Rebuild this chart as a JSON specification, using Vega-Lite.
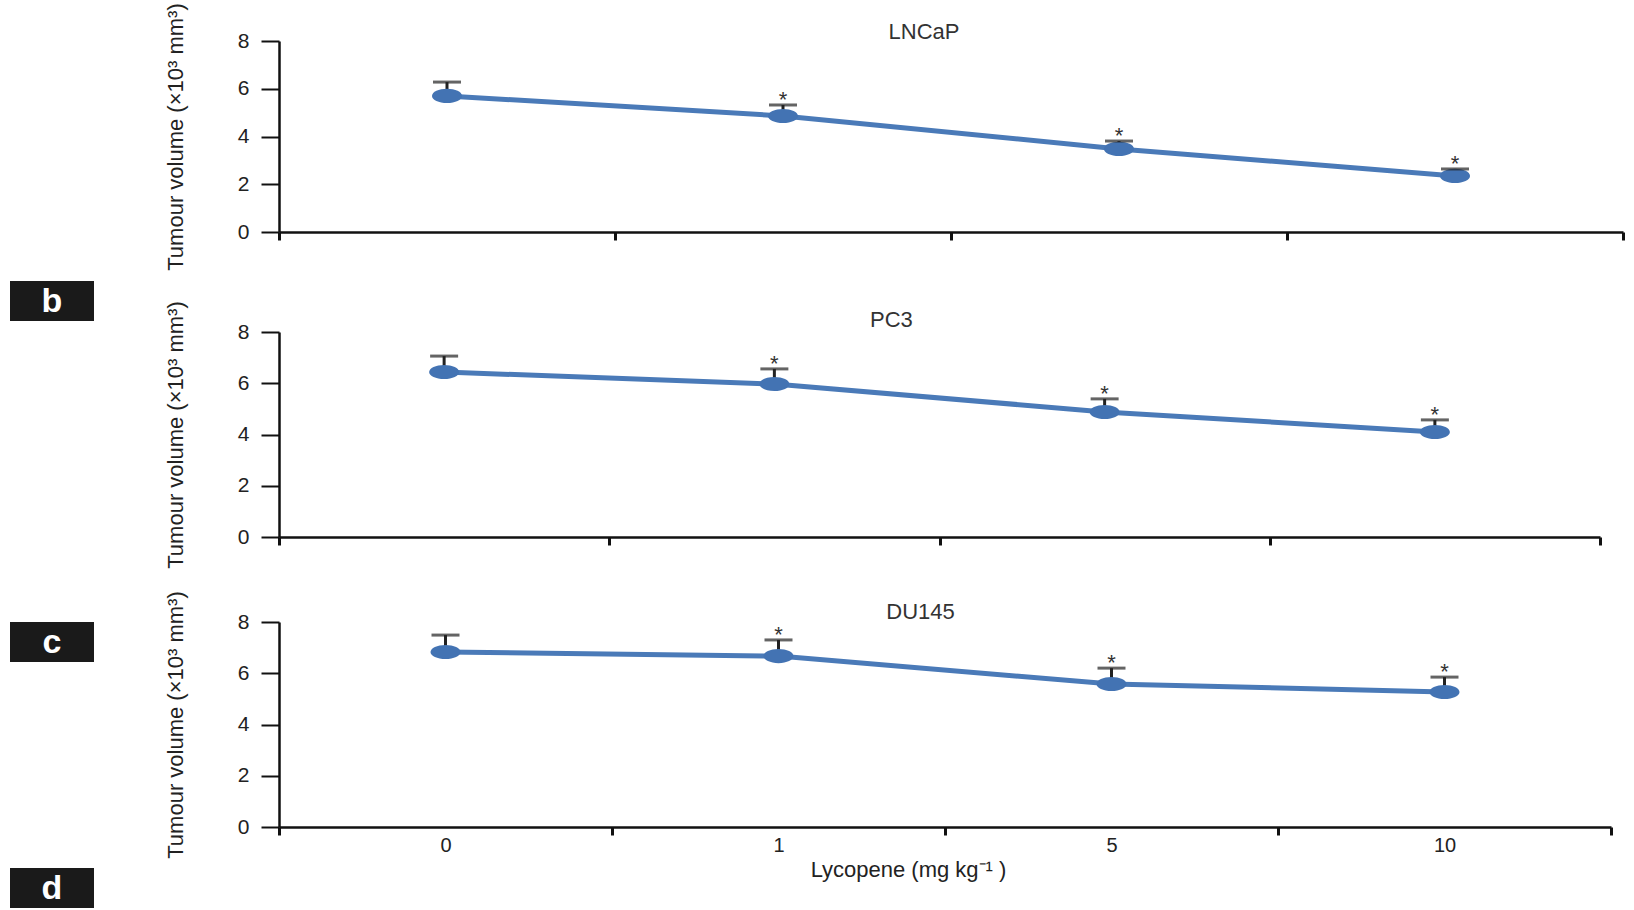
{
  "$schema": "https://vega.github.io/schema/vega-lite/v6.json",
  "background": "white",
  "padding": {"left": 10, "top": 2, "right": 0, "bottom": 0},
  "datasets": {
    "vol": [
      {"cell": "LNCaP", "dose": "0", "mean": 5.70, "upper": 6.28, "star": ""},
      {"cell": "LNCaP", "dose": "1", "mean": 4.86, "upper": 5.32, "star": "*"},
      {"cell": "LNCaP", "dose": "5", "mean": 3.48, "upper": 3.81, "star": "*"},
      {"cell": "LNCaP", "dose": "10", "mean": 2.35, "upper": 2.64, "star": "*"},
      {"cell": "PC3", "dose": "0", "mean": 6.44, "upper": 7.06, "star": ""},
      {"cell": "PC3", "dose": "1", "mean": 5.97, "upper": 6.56, "star": "*"},
      {"cell": "PC3", "dose": "5", "mean": 4.88, "upper": 5.39, "star": "*"},
      {"cell": "PC3", "dose": "10", "mean": 4.10, "upper": 4.57, "star": "*"},
      {"cell": "DU145", "dose": "0", "mean": 6.83, "upper": 7.49, "star": ""},
      {"cell": "DU145", "dose": "1", "mean": 6.67, "upper": 7.30, "star": "*"},
      {"cell": "DU145", "dose": "5", "mean": 5.58, "upper": 6.20, "star": "*"},
      {"cell": "DU145", "dose": "10", "mean": 5.27, "upper": 5.85, "star": "*"}
    ]
  },
  "config": {
    "view": {"stroke": null},
    "font": "Liberation Sans",
    "axis": {
      "grid": false,
      "domainColor": "#111",
      "tickColor": "#111",
      "labelColor": "#222",
      "titleColor": "#222",
      "labelFont": "Liberation Sans",
      "titleFont": "Liberation Sans",
      "titleFontWeight": "normal"
    },
    "axisY": {
      "labelFontSize": 21,
      "labelPadding": 12,
      "tickSize": 18,
      "tickWidth": 2,
      "domainWidth": 2.5,
      "titleFontSize": 22,
      "titlePadding": 50
    },
    "axisX": {
      "tickBand": "extent",
      "tickSize": 8,
      "tickWidth": 3,
      "domainWidth": 2.5,
      "labelFontSize": 20,
      "labelPadding": 0,
      "titleFontSize": 22,
      "titlePadding": 4,
      "labelAngle": 0
    }
  },
  "vconcat": [
    {
      "width": 1344,
      "height": 191,
      "layer": [
        {
          "data": {"name": "vol"},
          "transform": [{"filter": "datum.cell === 'LNCaP'"}],
          "layer": [
            {"mark": {"type": "rule", "color": "#222", "strokeWidth": 3},
             "encoding": {"y": {"field": "mean", "type": "quantitative"}, "y2": {"field": "upper"}}},
            {"mark": {"type": "line", "color": "#4a7ab8", "strokeWidth": 5}, "encoding": {}},
            {"mark": {"type": "point", "filled": true, "opacity": 1, "color": "#4373b3", "shape": "M-1,0A1,0.47,0,1,0,1,0A1,0.47,0,1,0,-1,0Z", "size": 900},
             "encoding": {}},
            {"mark": {"type": "tick", "color": "#222", "size": 28, "thickness": 3, "orient": "horizontal"},
             "encoding": {"y": {"field": "upper", "type": "quantitative"}}},
            {"mark": {"type": "text", "fontSize": 22, "color": "#333", "baseline": "alphabetic", "dy": 2},
             "encoding": {"y": {"field": "upper", "type": "quantitative"}, "text": {"field": "star"}}}
          ],
          "encoding": {
            "x": {"field": "dose", "type": "nominal", "bandPosition": 0.5, "sort": ["0", "1", "5", "10"],
                  "scale": {"type": "band", "domain": ["0", "1", "5", "10"], "paddingInner": 0, "paddingOuter": 0},
                  "axis": {"labels": false, "title": null}},
            "y": {"field": "mean", "type": "quantitative",
                  "scale": {"domain": [0, 8], "nice": false},
                  "axis": {"values": [0, 2, 4, 6, 8], "title": "Tumour volume (×10³ mm³)"}}
          }
        },
        {
          "data": {"values": [{"panel": "LNCaP"}]},
          "mark": {"type": "text", "fontSize": 22, "color": "#333", "baseline": "alphabetic", "align": "center", "dx": 141, "dy": -2, "clip": false},
          "encoding": {"x": {"datum": "1", "bandPosition": 0.5}, "y": {"datum": 8}, "text": {"field": "panel"}}
        },
        {
          "data": {"values": [{"letter": "b"}]},
          "layer": [
            {"mark": {"type": "point", "filled": true, "opacity": 1, "color": "#1a1a1a", "shape": "M-1,-0.476L1,-0.476L1,0.476L-1,0.476Z", "size": 7056, "clip": false},
             "encoding": {"x": {"value": -227}, "y": {"datum": -2.89}}},
            {"mark": {"type": "text", "color": "white", "fontSize": 34, "fontWeight": "bold", "baseline": "middle", "align": "center", "dy": 1, "clip": false},
             "encoding": {"x": {"value": -227}, "y": {"datum": -2.89}, "text": {"field": "letter"}}}
          ]
        }
      ]
    },
    {
      "width": 1321,
      "height": 220,
      "layer": [
        {
          "data": {"name": "vol"},
          "transform": [{"filter": "datum.cell === 'PC3'"}],
          "layer": [
            {"mark": {"type": "rule", "color": "#222", "strokeWidth": 3},
             "encoding": {"y": {"field": "mean", "type": "quantitative"}, "y2": {"field": "upper"}}},
            {"mark": {"type": "line", "color": "#4a7ab8", "strokeWidth": 5}, "encoding": {}},
            {"mark": {"type": "point", "filled": true, "opacity": 1, "color": "#4373b3", "shape": "M-1,0A1,0.47,0,1,0,1,0A1,0.47,0,1,0,-1,0Z", "size": 900},
             "encoding": {}},
            {"mark": {"type": "tick", "color": "#222", "size": 28, "thickness": 3, "orient": "horizontal"},
             "encoding": {"y": {"field": "upper", "type": "quantitative"}}},
            {"mark": {"type": "text", "fontSize": 22, "color": "#333", "baseline": "alphabetic", "dy": 2},
             "encoding": {"y": {"field": "upper", "type": "quantitative"}, "text": {"field": "star"}}}
          ],
          "encoding": {
            "x": {"field": "dose", "type": "nominal", "bandPosition": 0.5, "sort": ["0", "1", "5", "10"],
                  "scale": {"type": "band", "domain": ["0", "1", "5", "10"], "paddingInner": 0, "paddingOuter": 0},
                  "axis": {"labels": false, "title": null}},
            "y": {"field": "mean", "type": "quantitative",
                  "scale": {"domain": [0, 8], "nice": false, "range": [220, 15]},
                  "axis": {"values": [0, 2, 4, 6, 8], "title": "Tumour volume (×10³ mm³)"}}
          }
        },
        {
          "data": {"values": [{"panel": "PC3"}]},
          "mark": {"type": "text", "fontSize": 22, "color": "#333", "baseline": "alphabetic", "align": "center", "dx": 117, "dy": -5, "clip": false},
          "encoding": {"x": {"datum": "1", "bandPosition": 0.5}, "y": {"datum": 8}, "text": {"field": "panel"}}
        }
      ]
    },
    {
      "width": 1332,
      "height": 205,
      "layer": [
        {
          "data": {"name": "vol"},
          "transform": [{"filter": "datum.cell === 'DU145'"}],
          "layer": [
            {"mark": {"type": "rule", "color": "#222", "strokeWidth": 3},
             "encoding": {"y": {"field": "mean", "type": "quantitative"}, "y2": {"field": "upper"}}},
            {"mark": {"type": "line", "color": "#4a7ab8", "strokeWidth": 5}, "encoding": {}},
            {"mark": {"type": "point", "filled": true, "opacity": 1, "color": "#4373b3", "shape": "M-1,0A1,0.47,0,1,0,1,0A1,0.47,0,1,0,-1,0Z", "size": 900},
             "encoding": {}},
            {"mark": {"type": "tick", "color": "#222", "size": 28, "thickness": 3, "orient": "horizontal"},
             "encoding": {"y": {"field": "upper", "type": "quantitative"}}},
            {"mark": {"type": "text", "fontSize": 22, "color": "#333", "baseline": "alphabetic", "dy": 2},
             "encoding": {"y": {"field": "upper", "type": "quantitative"}, "text": {"field": "star"}}}
          ],
          "encoding": {
            "x": {"field": "dose", "type": "nominal", "bandPosition": 0.5, "sort": ["0", "1", "5", "10"],
                  "scale": {"type": "band", "domain": ["0", "1", "5", "10"], "paddingInner": 0, "paddingOuter": 0},
                  "axis": {"title": "Lycopene (mg kg⁻¹ )", "titleX": 629}},
            "y": {"field": "mean", "type": "quantitative",
                  "scale": {"domain": [0, 8], "nice": false},
                  "axis": {"values": [0, 2, 4, 6, 8], "title": "Tumour volume (×10³ mm³)"}}
          }
        },
        {
          "data": {"values": [{"panel": "DU145"}]},
          "mark": {"type": "text", "fontSize": 22, "color": "#333", "baseline": "alphabetic", "align": "center", "dx": 142, "dy": -3, "clip": false},
          "encoding": {"x": {"datum": "1", "bandPosition": 0.5}, "y": {"datum": 8}, "text": {"field": "panel"}}
        },
        {
          "data": {"values": [{"letter": "c", "pos": 7.22}, {"letter": "d", "pos": -2.38}]},
          "layer": [
            {"mark": {"type": "point", "filled": true, "opacity": 1, "color": "#1a1a1a", "shape": "M-1,-0.476L1,-0.476L1,0.476L-1,0.476Z", "size": 7056, "clip": false},
             "encoding": {"x": {"value": -227}, "y": {"field": "pos", "type": "quantitative"}}},
            {"mark": {"type": "text", "color": "white", "fontSize": 34, "fontWeight": "bold", "baseline": "middle", "align": "center", "dy": 1, "clip": false},
             "encoding": {"x": {"value": -227}, "y": {"field": "pos", "type": "quantitative"}, "text": {"field": "letter"}}}
          ]
        }
      ]
    }
  ],
  "spacing": 85,
  "bounds": "flush"
}
